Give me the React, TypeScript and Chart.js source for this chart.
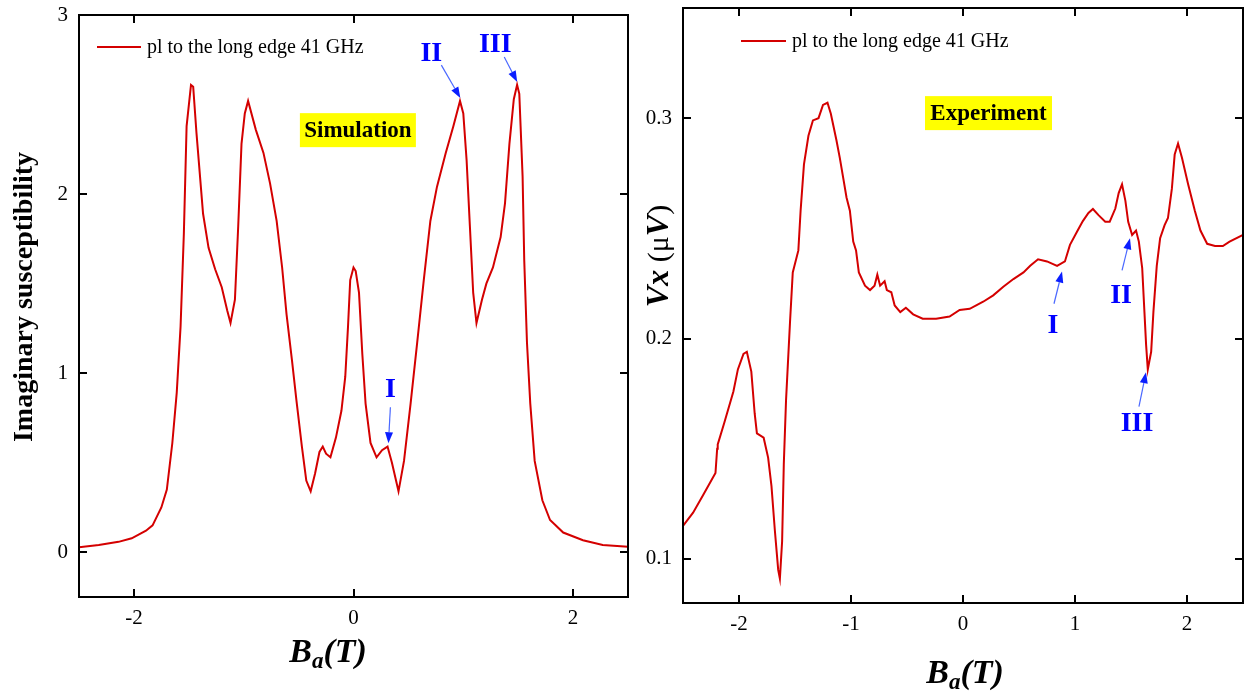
import React, { useEffect, useRef } from "react";
import { Chart, registerables } from "chart.js";

Chart.register(...registerables);

const FONT = "'Liberation Serif', 'Times New Roman', Times, serif";

// ---------- Simulation (left panel) ----------
const simX = [
  -2.5, -2.32, -2.14, -2.02, -1.89, -1.83, -1.75, -1.7, -1.65, -1.61, -1.575, -1.545, -1.52, -1.48, -1.46,
  -1.43, -1.37, -1.32, -1.26, -1.2, -1.15, -1.12, -1.08, -1.05, -1.02, -0.99, -0.96, -0.89, -0.82, -0.76,
  -0.7, -0.65, -0.61, -0.56, -0.52, -0.47, -0.43, -0.39, -0.35, -0.31, -0.28, -0.25, -0.21, -0.16, -0.11,
  -0.075, -0.05, -0.03, 0.0, 0.02, 0.05, 0.08, 0.11, 0.155, 0.21, 0.26, 0.31, 0.35, 0.41, 0.46,
  0.52, 0.58, 0.64, 0.7, 0.76, 0.84, 0.91, 0.97, 1.0, 1.03, 1.06, 1.09, 1.12, 1.17, 1.21,
  1.27, 1.34, 1.38, 1.42, 1.46, 1.49, 1.51, 1.54, 1.555, 1.58, 1.61, 1.65, 1.72, 1.79, 1.91,
  2.09, 2.27, 2.5,
];
const simY = [
  0.028, 0.04, 0.058, 0.078, 0.12, 0.15, 0.25, 0.35, 0.61, 0.89, 1.26, 1.78, 2.38, 2.61, 2.6,
  2.34, 1.89, 1.7, 1.58, 1.48, 1.35, 1.28, 1.41, 1.82, 2.28, 2.45, 2.52, 2.36, 2.23, 2.06,
  1.85, 1.59, 1.33, 1.07, 0.85, 0.59, 0.4, 0.34, 0.44, 0.56, 0.59, 0.55, 0.53, 0.64, 0.79,
  0.98, 1.26, 1.52, 1.59, 1.57, 1.45, 1.11, 0.83, 0.61, 0.53, 0.57, 0.59, 0.5, 0.34, 0.51,
  0.83, 1.17, 1.52, 1.85, 2.04, 2.23, 2.38, 2.52, 2.45, 2.19, 1.82, 1.45, 1.28, 1.41, 1.5,
  1.59, 1.76, 1.95, 2.28, 2.53, 2.61, 2.56, 2.1, 1.63, 1.17, 0.83, 0.51, 0.29, 0.18, 0.11,
  0.067, 0.04, 0.03,
];
const simXTicks = [-2, 0, 2];
const simYTicks = [0, 1, 2, 3];

// ---------- Experiment (right panel) ----------
const expX = [
  -2.5, -2.41, -2.32, -2.21, -2.195, -2.19, -2.13, -2.05, -2.01, -1.96, -1.93, -1.89, -1.86, -1.84, -1.78,
  -1.74, -1.71, -1.68, -1.65, -1.635, -1.615, -1.6, -1.58, -1.555, -1.545, -1.52, -1.47, -1.45, -1.42, -1.38,
  -1.34, -1.29, -1.25, -1.21, -1.18, -1.13, -1.1, -1.07, -1.04, -1.01, -0.98, -0.955, -0.93, -0.875, -0.83,
  -0.79, -0.765, -0.74, -0.7, -0.68, -0.64, -0.61, -0.56, -0.51, -0.445, -0.36, -0.24, -0.12, -0.03, 0.06,
  0.18, 0.27, 0.36, 0.45, 0.54, 0.6, 0.67, 0.75, 0.84, 0.91, 0.955, 1.02, 1.07, 1.12, 1.16,
  1.21, 1.27, 1.31, 1.36, 1.39, 1.42, 1.45, 1.475, 1.51, 1.545, 1.57, 1.6, 1.62, 1.635, 1.65,
  1.68, 1.7, 1.73, 1.76, 1.8, 1.83, 1.865, 1.89, 1.92, 1.955, 2.01, 2.07, 2.12, 2.18, 2.25,
  2.32, 2.38, 2.5,
];
const expY = [
  0.115, 0.121, 0.129, 0.139, 0.15, 0.152, 0.162, 0.176, 0.186, 0.193, 0.194, 0.185, 0.166, 0.157, 0.155,
  0.146, 0.133, 0.113, 0.095, 0.091, 0.108, 0.143, 0.172, 0.197, 0.207, 0.23, 0.24, 0.258, 0.279, 0.292,
  0.299, 0.3, 0.306, 0.307, 0.302, 0.29, 0.282, 0.273, 0.264, 0.258, 0.244, 0.24, 0.23, 0.224, 0.222,
  0.224, 0.229, 0.224, 0.226, 0.222, 0.221, 0.215, 0.212, 0.214, 0.211, 0.209, 0.209, 0.21, 0.213, 0.2135,
  0.2167, 0.2196, 0.2235, 0.227, 0.23, 0.233, 0.236, 0.235, 0.233, 0.235, 0.2425, 0.2487, 0.2533, 0.257, 0.2588,
  0.256, 0.253, 0.253, 0.259, 0.266, 0.27, 0.2625, 0.253, 0.247, 0.249, 0.244, 0.232, 0.212, 0.197, 0.186,
  0.194, 0.212, 0.233, 0.2455, 0.2515, 0.2547, 0.268, 0.2835, 0.2885, 0.282, 0.27, 0.258, 0.249, 0.243, 0.242,
  0.242, 0.244, 0.247,
];
const expXTicks = [-2, -1, 0, 1, 2];
const expYTicks = [0.1, 0.2, 0.3];

const legendLabel = "pl to the long edge 41 GHz";
const simBoxLabel = "Simulation";
const expBoxLabel = "Experiment";

// annotations: label position, arrow tail, arrow head (data coordinates)
const simArrows = [
  { label: "I", lx: 0.336, ly: 0.916, tx: 0.336, ty: 0.81, hx: 0.318, hy: 0.609 },
  { label: "II", lx: 0.709, ly: 2.793, tx: 0.8, ty: 2.72, hx: 0.973, hy: 2.536 },
  { label: "III", lx: 1.291, ly: 2.844, tx: 1.373, ty: 2.765, hx: 1.491, hy: 2.626 },
];
const expArrows = [
  { label: "I", lx: 0.804, ly: 0.2066, tx: 0.8125, ty: 0.2158, hx: 0.884, hy: 0.2304 },
  { label: "II", lx: 1.411, ly: 0.2204, tx: 1.42, ty: 0.2309, hx: 1.491, hy: 0.2455 },
  { label: "III", lx: 1.554, ly: 0.1622, tx: 1.571, ty: 0.1691, hx: 1.634, hy: 0.1847 },
];

type Seg = { t: string; font: string; dy?: number };

function drawSegs(ctx: CanvasRenderingContext2D, segs: Seg[], x: number, y: number, rotate: boolean) {
  ctx.save();
  ctx.translate(x, y);
  if (rotate) ctx.rotate(-Math.PI / 2);
  ctx.textAlign = "left";
  ctx.textBaseline = "alphabetic";
  let total = 0;
  for (const s of segs) {
    ctx.font = s.font;
    total += ctx.measureText(s.t).width;
  }
  let cx = -total / 2;
  for (const s of segs) {
    ctx.font = s.font;
    ctx.fillText(s.t, cx, s.dy || 0);
    cx += ctx.measureText(s.t).width;
  }
  ctx.restore();
}

const BI = (n: number) => `italic bold ${n}px ${FONT}`;
const RG = (n: number) => `${n}px ${FONT}`;

type Spec = {
  xs: number[];
  ys: number[];
  xTicks: number[];
  yTicks: number[];
  xMin: number;
  xMax: number;
  yMin: number;
  yMax: number;
  yAxisWidth: number;
  xAxisHeight: number;
  padTop: number;
  padRight: number;
  arrows: typeof simArrows;
  box: { text: string; x: number; y: number; w: number; h: number };
  legend: { x1: number; x2: number; y: number };
  xTitle: { cx: number; base: number };
  yTitle: { base: number; cy: number; segs: Seg[] };
};

const xTitleSegs: Seg[] = [
  { t: "B", font: BI(34) },
  { t: "a", font: BI(23), dy: 6 },
  { t: "(T)", font: BI(34) },
];

const specs: Spec[] = [
  {
    xs: simX,
    ys: simY,
    xTicks: simXTicks,
    yTicks: simYTicks,
    xMin: -2.5,
    xMax: 2.5,
    yMin: -0.25,
    yMax: 3,
    yAxisWidth: 79,
    xAxisHeight: 99,
    padTop: 15,
    padRight: 12,
    arrows: simArrows,
    box: { text: simBoxLabel, x: 0.04, y: 2.357, w: 116, h: 34 },
    legend: { x1: 97, x2: 141, y: 47 },
    xTitle: { cx: 328, base: 662 },
    yTitle: { base: 32, cy: 297, segs: [{ t: "Imaginary susceptibility", font: `bold 28px ${FONT}` }] },
  },
  {
    xs: expX,
    ys: expY,
    xTicks: expXTicks,
    yTicks: expYTicks,
    xMin: -2.5,
    xMax: 2.5,
    yMin: 0.08,
    yMax: 0.35,
    yAxisWidth: 53,
    xAxisHeight: 93,
    padTop: 8,
    padRight: 7,
    arrows: expArrows,
    box: { text: expBoxLabel, x: 0.2277, y: 0.3023, w: 127, h: 34 },
    legend: { x1: 111, x2: 156, y: 41 },
    xTitle: { cx: 335, base: 683 },
    yTitle: {
      base: 38,
      cy: 256,
      segs: [
        { t: "Vx", font: BI(32) },
        { t: " (", font: RG(30) },
        { t: "\u03bc", font: RG(30) },
        { t: "V", font: BI(32) },
        { t: ")", font: RG(30) },
      ],
    },
  },
];

function makeDecor(spec: Spec) {
  return {
    id: "decor",
    afterDraw(chart: any) {
      const ctx: CanvasRenderingContext2D = chart.ctx;
      const { left, right, top, bottom } = chart.chartArea;
      const sx = chart.scales.x;
      const sy = chart.scales.y;
      ctx.save();
      // frame
      ctx.strokeStyle = "#000";
      ctx.lineWidth = 2;
      ctx.strokeRect(left, top, right - left, bottom - top);
      // inward ticks on all four sides
      ctx.beginPath();
      for (const v of spec.xTicks) {
        const p = Math.round(sx.getPixelForValue(v));
        ctx.moveTo(p, bottom);
        ctx.lineTo(p, bottom - 8);
        ctx.moveTo(p, top);
        ctx.lineTo(p, top + 8);
      }
      for (const v of spec.yTicks) {
        const p = Math.round(sy.getPixelForValue(v));
        ctx.moveTo(left, p);
        ctx.lineTo(left + 8, p);
        ctx.moveTo(right, p);
        ctx.lineTo(right - 8, p);
      }
      ctx.stroke();

      // legend
      ctx.strokeStyle = "#d40000";
      ctx.lineWidth = 2;
      ctx.beginPath();
      ctx.moveTo(spec.legend.x1, spec.legend.y);
      ctx.lineTo(spec.legend.x2, spec.legend.y);
      ctx.stroke();
      ctx.fillStyle = "#000";
      ctx.font = `20px ${FONT}`;
      ctx.textAlign = "left";
      ctx.textBaseline = "middle";
      ctx.fillText(legendLabel, spec.legend.x2 + 6, spec.legend.y + 1);

      // yellow label box
      const bx = sx.getPixelForValue(spec.box.x);
      const by = sy.getPixelForValue(spec.box.y);
      ctx.fillStyle = "#ffff00";
      ctx.fillRect(bx - spec.box.w / 2, by - spec.box.h / 2, spec.box.w, spec.box.h);
      ctx.fillStyle = "#000";
      ctx.font = `bold 23px ${FONT}`;
      ctx.textAlign = "center";
      ctx.textBaseline = "middle";
      ctx.fillText(spec.box.text, bx, by + 1);

      // arrows and roman numerals
      for (const a of spec.arrows) {
        const tx = sx.getPixelForValue(a.tx);
        const ty = sy.getPixelForValue(a.ty);
        const hx = sx.getPixelForValue(a.hx);
        const hy = sy.getPixelForValue(a.hy);
        const ang = Math.atan2(hy - ty, hx - tx);
        const hl = 11;
        const hw = 4;
        const bxp = hx - hl * Math.cos(ang);
        const byp = hy - hl * Math.sin(ang);
        ctx.strokeStyle = "#4a68ff";
        ctx.lineWidth = 1.2;
        ctx.beginPath();
        ctx.moveTo(tx, ty);
        ctx.lineTo(bxp, byp);
        ctx.stroke();
        ctx.fillStyle = "#0a1eff";
        ctx.beginPath();
        ctx.moveTo(hx, hy);
        ctx.lineTo(bxp + hw * Math.sin(ang), byp - hw * Math.cos(ang));
        ctx.lineTo(bxp - hw * Math.sin(ang), byp + hw * Math.cos(ang));
        ctx.closePath();
        ctx.fill();
        ctx.fillStyle = "#0000ff";
        ctx.font = `bold 28px ${FONT}`;
        ctx.textAlign = "center";
        ctx.textBaseline = "middle";
        ctx.fillText(a.label, sx.getPixelForValue(a.lx), sy.getPixelForValue(a.ly) + 2);
      }

      // axis titles
      ctx.fillStyle = "#000";
      drawSegs(ctx, xTitleSegs, spec.xTitle.cx, spec.xTitle.base, false);
      drawSegs(ctx, spec.yTitle.segs, spec.yTitle.base, spec.yTitle.cy, true);
      ctx.restore();
    },
  };
}

function Panel({ spec, left, width }: { spec: Spec; left: number; width: number }) {
  const ref = useRef<HTMLCanvasElement>(null);
  useEffect(() => {
    const canvas = ref.current;
    if (!canvas) return;
    const points = spec.xs.map((x, i) => ({ x, y: spec.ys[i] }));
    const tickFont = { family: FONT, size: 21 };
    const chart = new Chart(canvas, {
      type: "line",
      data: {
        datasets: [
          {
            label: legendLabel,
            data: points,
            borderColor: "#d40000",
            borderWidth: 2,
            pointRadius: 0,
            tension: 0,
            fill: false,
          },
        ],
      },
      options: {
        responsive: false,
        animation: false,
        devicePixelRatio: 1,
        layout: { padding: { top: spec.padTop, right: spec.padRight, left: 0, bottom: 0 } },
        plugins: { legend: { display: false }, tooltip: { enabled: false }, title: { display: false } },
        scales: {
          x: {
            type: "linear",
            min: spec.xMin,
            max: spec.xMax,
            afterBuildTicks: (s: any) => {
              s.ticks = spec.xTicks.map((v) => ({ value: v }));
            },
            afterFit: (s: any) => {
              s.height = spec.xAxisHeight;
              s.paddingLeft = 0;
              s.paddingRight = 0;
              s.paddingTop = 0;
              s.paddingBottom = 0;
            },
            grid: { display: false, drawTicks: false },
            border: { display: false },
            ticks: {
              font: tickFont,
              color: "#000",
              padding: 9,
              maxRotation: 0,
              autoSkip: false,
              callback: (v: any) => `${v}`,
            },
          },
          y: {
            type: "linear",
            min: spec.yMin,
            max: spec.yMax,
            afterBuildTicks: (s: any) => {
              s.ticks = spec.yTicks.map((v) => ({ value: v }));
            },
            afterFit: (s: any) => {
              s.width = spec.yAxisWidth;
              s.paddingLeft = 0;
              s.paddingRight = 0;
              s.paddingTop = 0;
              s.paddingBottom = 0;
            },
            grid: { display: false, drawTicks: false },
            border: { display: false },
            ticks: {
              font: tickFont,
              color: "#000",
              padding: 11,
              autoSkip: false,
              callback: (v: any) => `${v}`,
            },
          },
        },
      },
      plugins: [makeDecor(spec)],
    } as any);
    return () => chart.destroy();
  }, [spec]);
  return (
    <canvas
      ref={ref}
      width={width}
      height={696}
      style={{ position: "absolute", left, top: 0, width, height: 696 }}
    />
  );
}

export default function App() {
  return (
    <div style={{ position: "fixed", left: 0, top: 0, width: 1250, height: 696, background: "#fff" }}>
      <Panel spec={specs[0]} left={0} width={640} />
      <Panel spec={specs[1]} left={630} width={620} />
    </div>
  );
}
